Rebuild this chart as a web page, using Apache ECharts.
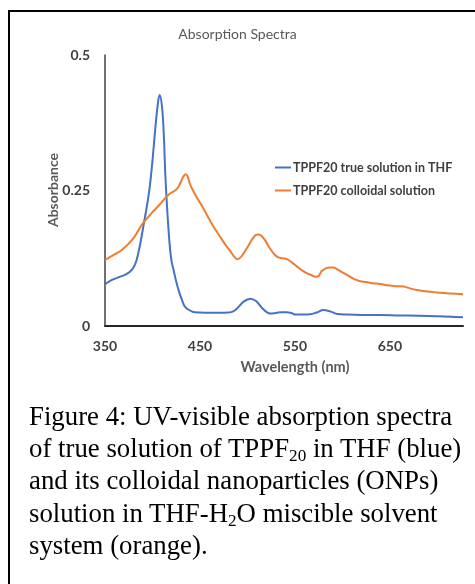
<!DOCTYPE html>
<html>
<head>
<meta charset="utf-8">
<script src="https://cdn.jsdelivr.net/npm/echarts@6/dist/echarts.min.js"></script>
<style>
  html, body { margin: 0; padding: 0; background: #fff; overflow: hidden; width: 475px; height: 584px; }
  #chart { position: absolute; left: 0; top: 0; width: 475px; height: 584px; }
  #box { position: absolute; left: 8px; top: 10px; width: 470px; height: 580px; overflow: hidden;
         border-left: 2px solid #000; border-top: 2px solid #000; pointer-events: none; }
  #caption { position: absolute; left: 29px; top: 400px; white-space: nowrap;
             font-family: "Liberation Serif", "Times New Roman", serif; font-size: 26.8px;
             line-height: 32.2px; color: #000; }
  #caption sub { font-size: 0.64em; line-height: 0; vertical-align: -0.22em; }
</style>
</head>
<body>
<div id="chart"></div>
<div id="box"></div>
<div id="caption">Figure 4: UV-visible absorption spectra<br>of true solution of TPPF<sub>20</sub> in THF (blue)<br>and its colloidal nanoparticles (ONPs)<br>solution in THF-H<sub>2</sub>O miscible solvent<br>system (orange).</div>
<script>
const chartTitle = 'Absorption Spectra';
const xAxisTitle = 'Wavelength (nm)';
const yAxisTitle = 'Absorbance';
const seriesNames = ['TPPF20 true solution in THF', 'TPPF20 colloidal solution'];
const xTickLabels = [350, 450, 550, 650];
const yTickLabels = [0, 0.25, 0.5];

const blueWavelength = [350, 355, 360, 366, 373, 378, 382, 385, 388, 391, 394, 397, 400, 402.5, 405, 407.5, 410, 412, 413.5, 415.5, 418, 420, 422, 425, 428, 431, 434, 438, 443, 450, 460, 470, 480, 485, 490, 496, 503, 509, 515, 520, 524, 530, 536, 541, 546, 551, 557, 566, 573, 580, 587, 595, 605, 620, 640, 660, 680, 700, 715, 727];
const blueAbs = [0.077, 0.083, 0.087, 0.091, 0.096, 0.103, 0.115, 0.134, 0.16, 0.19, 0.22, 0.255, 0.305, 0.355, 0.40, 0.426, 0.405, 0.35, 0.28, 0.215, 0.152, 0.12, 0.105, 0.082, 0.063, 0.048, 0.036, 0.03, 0.026, 0.025, 0.0245, 0.0245, 0.025, 0.027, 0.034, 0.045, 0.0505, 0.046, 0.034, 0.026, 0.023, 0.024, 0.0255, 0.0255, 0.024, 0.021, 0.021, 0.0215, 0.025, 0.0295, 0.027, 0.022, 0.021, 0.0205, 0.0205, 0.0195, 0.019, 0.018, 0.017, 0.016];

const orangeWavelength = [350, 355, 360, 365, 370, 375, 380, 385, 390, 395, 400, 405, 410, 415, 419, 423, 427, 431, 433, 435, 437, 439.5, 443, 447, 452, 458, 464, 470, 476, 482, 486, 489.5, 493, 497, 501, 505, 509, 512, 515, 519, 523, 528, 532, 537, 542, 547, 552, 557, 562, 567, 572, 575, 578, 582, 586, 590, 595, 600, 606, 612, 618, 625, 632, 640, 648, 656, 664, 672, 680, 690, 700, 710, 720, 727];
const orangeAbs = [0.122, 0.127, 0.132, 0.137, 0.144, 0.152, 0.162, 0.176, 0.19, 0.2, 0.21, 0.219, 0.229, 0.239, 0.245, 0.249, 0.256, 0.27, 0.277, 0.28, 0.276, 0.262, 0.249, 0.236, 0.222, 0.203, 0.184, 0.168, 0.152, 0.138, 0.128, 0.123, 0.127, 0.137, 0.148, 0.16, 0.168, 0.169, 0.166, 0.157, 0.145, 0.133, 0.127, 0.125, 0.123, 0.117, 0.11, 0.103, 0.098, 0.094, 0.091, 0.092, 0.101, 0.106, 0.108, 0.108, 0.104, 0.099, 0.093, 0.087, 0.083, 0.081, 0.079, 0.0775, 0.075, 0.0735, 0.073, 0.069, 0.066, 0.0635, 0.062, 0.0605, 0.0595, 0.0585];

const pair = (xs, ys) => xs.map((x, i) => [x, ys[i]]);
const font = 'Lato, "Open Sans", sans-serif';

const chart = echarts.init(document.getElementById('chart'), null, { renderer: 'canvas' });
chart.setOption({
  animation: false,
  backgroundColor: 'transparent',
  title: {
    text: chartTitle, left: 'center', top: 22,
    textStyle: { fontFamily: font, fontSize: 14, fontWeight: 'normal', color: '#595959' }
  },
  legend: {
    orient: 'vertical', left: 270, top: 156, itemGap: 10,
    itemWidth: 16, itemHeight: 2, icon: 'rect',
    textStyle: { fontFamily: font, fontSize: 12.5, fontWeight: 'bold', color: '#404040', padding: [0, 0, 0, -3] },
    data: seriesNames
  },
  grid: { left: 105, right: 12, top: 55, bottom: 258, containLabel: false },
  xAxis: {
    type: 'value', min: 350, max: 727, interval: 100,
    axisLine: { show: true, lineStyle: { color: '#262626', width: 2 } },
    axisTick: { show: false }, splitLine: { show: false },
    axisLabel: {
      margin: 13, fontFamily: font, fontSize: 14, fontWeight: 'bold', color: '#404040',
      formatter: v => xTickLabels.includes(v) ? String(v) : ''
    }
  },
  yAxis: {
    type: 'value', min: 0, max: 0.5, interval: 0.25,
    axisLine: { show: true, lineStyle: { color: '#404040', width: 1.5 } },
    axisTick: { show: false }, splitLine: { show: false },
    axisLabel: {
      margin: 15, fontFamily: font, fontSize: 14, fontWeight: 'bold', color: '#404040',
      formatter: v => yTickLabels.includes(v) ? String(v) : ''
    }
  },
  graphic: [
    { type: 'text', x: 295, y: 367, style: { text: xAxisTitle, align: 'center', verticalAlign: 'middle',
      font: 'bold 14.5px ' + font, fill: '#595959' } },
    { type: 'text', x: 53, y: 190, rotation: Math.PI / 2, style: { text: yAxisTitle, align: 'center', verticalAlign: 'middle',
      font: 'bold 14px ' + font, fill: '#595959' } }
  ],
  series: [
    { name: seriesNames[0], type: 'line', data: pair(blueWavelength, blueAbs), smooth: 0.4, showSymbol: false,
      lineStyle: { color: '#4472C4', width: 2 }, itemStyle: { color: '#4472C4' } },
    { name: seriesNames[1], type: 'line', data: pair(orangeWavelength, orangeAbs), smooth: 0.4, showSymbol: false,
      lineStyle: { color: '#ED7D31', width: 2 }, itemStyle: { color: '#ED7D31' } }
  ]
});
</script>
</body>
</html>
